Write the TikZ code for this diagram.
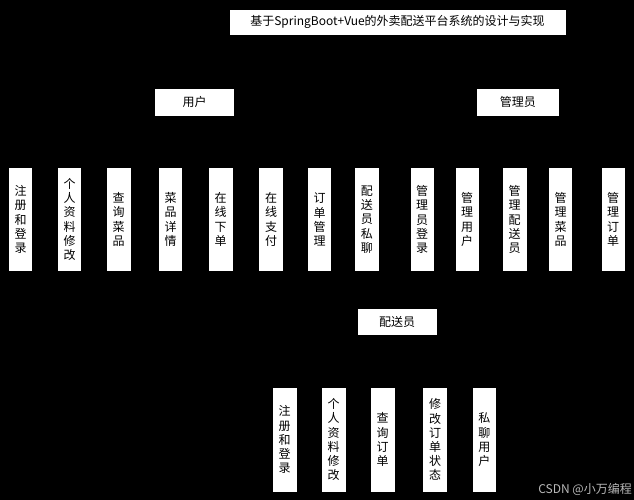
\documentclass[tikz,border=0pt]{standalone}
\usepackage{fontspec}
\setmainfont{Noto Sans CJK SC}
\usepackage{tikz}
\usetikzlibrary{positioning}

\begin{document}
\begin{tikzpicture}[x=1pt, y=-1pt,
  box/.style={draw=black, line width=0.6pt, fill=white, inner sep=0pt, font=\fontsize{12}{14}\selectfont},
  leaf/.style={box, minimum width=24.5pt, minimum height=104.4pt, align=center, font=\fontsize{12}{14.2}\selectfont}]
\fill[black] (0,0) rectangle (634,500);
\useasboundingbox (0,0) rectangle (634,500);
% top
\path
(397.5,22.2) node[box, minimum width=337pt, minimum height=26.3pt] (title) {基于SpringBoot+Vue的外卖配送平台系统的设计与实现};
\path
(194.5,102.3) node[box, minimum width=79.6pt, minimum height=28pt] (user) {用户};
\path
(517.8,102.3) node[box, minimum width=82.3pt, minimum height=28pt] (admin) {管理员};
\path
(397.2,322) node[box, minimum width=79.7pt, minimum height=27.4pt] (rider) {配送员};
% user
\path
(20.5,219.5) node[leaf] (u1) {注\\册\\和\\登\\录};
\path
(69.5,219.5) node[leaf] (u2) {个\\人\\资\\料\\修\\改};
\path
(118.7,219.5) node[leaf] (u3) {查\\询\\菜\\品};
\path
(170.5,219.5) node[leaf] (u4) {菜\\品\\详\\情};
\path
(220.7,219.5) node[leaf] (u5) {在\\线\\下\\单};
\path
(271,219.5) node[leaf] (u6) {在\\线\\支\\付};
\path
(319.5,219.5) node[leaf] (u7) {订\\单\\管\\理};
\path
(366.8,219.5) node[leaf] (u8) {配\\送\\员\\私\\聊};
% admin
\path
(422.2,219.5) node[leaf] (a1) {管\\理\\员\\登\\录};
\path
(467.2,219.5) node[leaf] (a2) {管\\理\\用\\户};
\path
(514.7,219.5) node[leaf] (a3) {管\\理\\配\\送\\员};
\path
(560.5,219.5) node[leaf] (a4) {管\\理\\菜\\品};
\path
(613.2,219.5) node[leaf] (a5) {管\\理\\订\\单};
% rider
\path
(284.7,439.7) node[leaf] (r1) {注\\册\\和\\登\\录};
\path
(333.7,439.7) node[leaf] (r2) {个\\人\\资\\料\\修\\改};
\path
(382.7,439.7) node[leaf] (r3) {查\\询\\订\\单};
\path
(435,439.7) node[leaf] (r4) {修\\改\\订\\单\\状\\态};
\path
(484.3,439.7) node[leaf] (r5) {私\\聊\\用\\户};
\path
(632,489) node[left, inner sep=0pt, text=gray!55, font=\fontsize{12}{14}\selectfont] (mark) {CSDN @小万编程};
\end{tikzpicture}
\end{document}
